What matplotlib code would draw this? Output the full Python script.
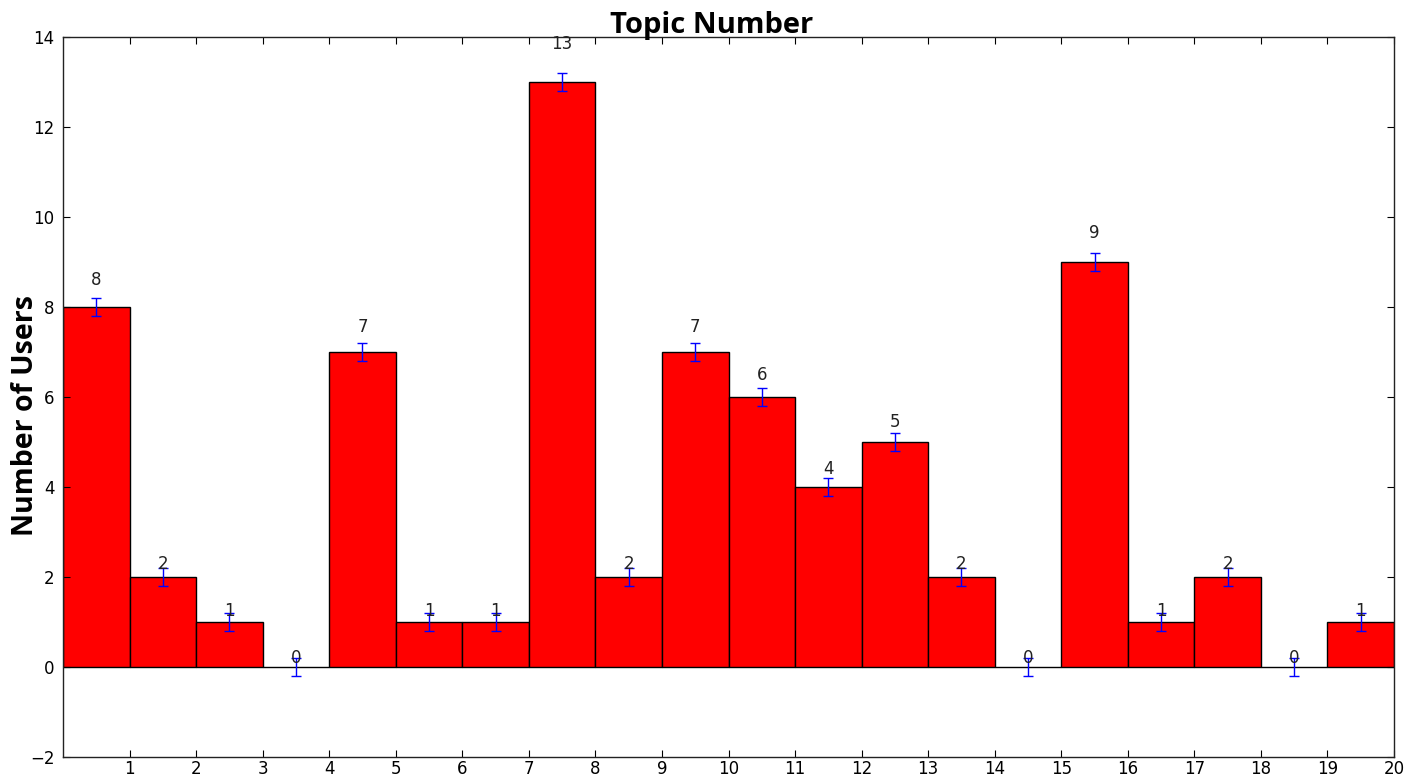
import matplotlib.pyplot as plt

topics = list(range(20))
users = [8, 2, 1, 0, 7, 1, 1, 13, 2, 7, 6, 4, 5, 2, 0, 9, 1, 2, 0, 1]
errors = [0.2] * 20
xtick_labels = [str(i) for i in range(1, 21)]

fig = plt.figure(figsize=(14.06, 7.79), dpi=100)
ax = fig.add_axes([0.0448, 0.0282, 0.9467, 0.9243])

ax.bar(topics, users, width=1.0, align="edge", color="red",
       edgecolor="black", linewidth=1.0)
centers = [t + 0.5 for t in topics]
ax.errorbar(centers, users, yerr=errors, fmt="none", ecolor="blue",
            elinewidth=1.0, capsize=3.5, capthick=1.0)

for c, h in zip(centers, users):
    ax.text(c, 1.05 * h, "%d" % int(h), ha="center", va="bottom",
            fontsize=12, color="#222222")

ax.set_xlim(0, 20)
ax.set_ylim(-2, 14)
ax.set_xticks(range(1, 21))
ax.set_xticklabels(xtick_labels)
ax.set_yticks(range(-2, 15, 2))
ax.tick_params(direction="in", top=True, right=True, length=5,
               labelsize=12)
ax.tick_params(axis="x", pad=2)
ax.tick_params(axis="y", pad=6)
for s in ax.spines.values():
    s.set_linewidth(1.0)
    s.set_color("#222222")

fig.text(0.506, 0.9576, "Topic Number", ha="center", va="baseline",
         fontsize=21, fontweight="bold", family="Open Sans")
fig.text(0.018, 0.467, "Number of Users", ha="center", va="center",
         rotation=90, fontsize=20.5, fontweight="bold", family="Open Sans")

fig.savefig("out.png", dpi=100)
